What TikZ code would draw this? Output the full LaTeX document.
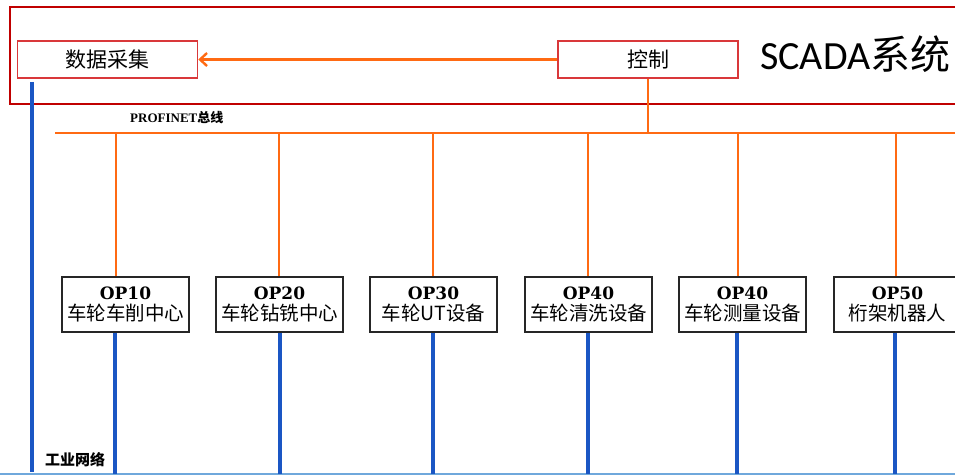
\documentclass[tikz,border=0pt]{standalone}
\usepackage{fontspec}
\setmainfont{Liberation Serif}
\newfontfamily\cjk{Noto Sans CJK SC}
\newfontfamily\titlefont{Carlito}
\newfontfamily\opfont{DejaVu Serif}
\usetikzlibrary{arrows.meta}

\definecolor{frame}{HTML}{C00000}
\definecolor{boxred}{HTML}{D9383A}
\definecolor{bus}{HTML}{FF6A13}
\definecolor{net}{HTML}{1A56C4}
\definecolor{netlight}{HTML}{6FA8DC}

\tikzset{
  scadabox/.style={draw=boxred, line width=1.5pt, minimum width=180pt, minimum height=37pt,
    inner sep=0pt, font=\cjk\fontsize{21}{21}\selectfont},
  station/.style={draw=black!85, line width=1.5pt, fill=white, minimum width=127pt,
    minimum height=55pt, inner sep=0pt, align=center},
  busline/.style={draw=bus, line width=2.6pt},
  netline/.style={draw=net, line width=3.4pt},
  smalllabel/.style={inner sep=0pt, font=\bfseries\fontsize{13}{13}\selectfont},
}
\newcommand{\stationtext}[2]{{\opfont\bfseries\fontsize{17}{17}\selectfont #1}\\[4pt]{\cjk\fontsize{19.5}{19.5}\selectfont #2}}

\begin{document}
\begin{tikzpicture}[x=1pt,y=-1pt]
\useasboundingbox (0,0) rectangle (955,475);
\begin{scope}
\clip (0,0) rectangle (955,475);

% SCADA frame
\draw[frame, line width=2.6pt] (10,7) rectangle (980,104);
\node[scadabox] (acq) at (107.5,59.5) {数据采集};
\node[scadabox] (ctrl) at (648,59.5) {控制};
\node[anchor=base west, inner sep=0pt] (title) at (760,69)
  {\titlefont\fontsize{40}{40}\selectfont SCADA\cjk 系统};
\draw[busline, -{Straight Barb[length=7pt,width=13pt,line width=2.4pt]}] (ctrl.west) -- (acq.east);

% PROFINET bus
\coordinate (busL) at (55,133);
\coordinate (busR) at (960,133);
\draw[busline] (busL) -- (busR);
\draw[busline] (ctrl.south) -- (ctrl.south |- busL);
\node[smalllabel, anchor=west] (pn) at (130,118) {PROFINET{\cjk 总线}};

% stations
\node[station] (s1) at (125.5,304.5) {\stationtext{OP10}{车轮车削中心}};
\node[station] (s2) at (279.5,304.5) {\stationtext{OP20}{车轮钻铣中心}};
\node[station] (s3) at (433.5,304.5) {\stationtext{OP30}{车轮UT设备}};
\node[station] (s4) at (588.5,304.5) {\stationtext{OP40}{车轮清洗设备}};
\node[station] (s5) at (742.5,304.5) {\stationtext{OP40}{车轮测量设备}};
\node[station] (s6) at (897.5,304.5) {\stationtext{OP50}{桁架机器人}};

% bus drops
\coordinate (b1) at (116,133);
\coordinate (b2) at (279,133);
\coordinate (b3) at (433,133);
\coordinate (b4) at (588,133);
\coordinate (b5) at (738,133);
\coordinate (b6) at (896,133);
\foreach \i in {1,...,6} {\draw[busline] (b\i) -- (b\i |- s\i.north);}

% industrial network
\coordinate (netL) at (0,474);
\coordinate (netR) at (955,474);
\draw[netlight, line width=2.6pt] (netL) -- (netR);
\coordinate (n1) at (115,474);
\coordinate (n2) at (280,474);
\coordinate (n3) at (433,474);
\coordinate (n4) at (588,474);
\coordinate (n5) at (737,474);
\coordinate (n6) at (895,474);
\foreach \i in {1,...,6} {\draw[netline] (n\i |- s\i.south) -- (n\i);}
\coordinate (n0) at (32,472);
\draw[netline] (n0 |- acq.south) ++(0,3) -- (n0);
\node[smalllabel, anchor=west, font=\cjk\bfseries\fontsize{15}{15}\selectfont] (ind) at (45,460) {工业网络};
\end{scope}
\end{tikzpicture}
\end{document}
